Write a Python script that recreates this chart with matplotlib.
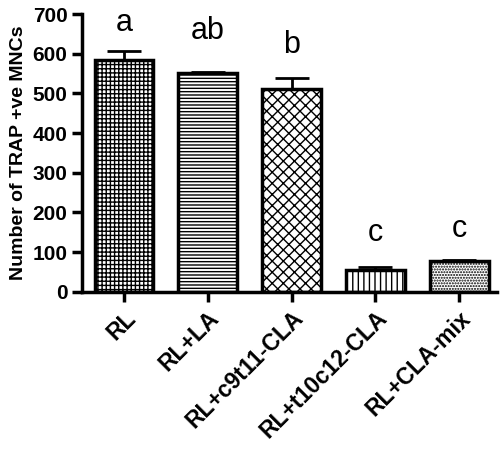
import matplotlib
matplotlib.use("Agg")
import matplotlib.pyplot as plt

categories = ["RL", "RL+LA", "RL+c9t11-CLA", "RL+t10c12-CLA", "RL+CLA-mix"]
values = [585, 552, 511, 55, 78]
errors = [22, 3, 28, 7, 2]
letters = ["a", "ab", "b", "c", "c"]
hatches = ["++++", "-----", "xxx", "|||", "......"]

plt.rcParams['font.family'] = ['Liberation Sans', 'DejaVu Sans']
plt.rcParams['hatch.linewidth'] = 1.0
fig = plt.figure(figsize=(5, 4.67), dpi=100)
ax = fig.add_axes([0.164, 0.375, 0.83, 0.595])
x = range(len(categories))
bars = ax.bar(x, values, width=0.7, color="white", edgecolor="black", linewidth=2.5, zorder=2)
for b, h in zip(bars, hatches):
    b.set_hatch(h)
ax.errorbar(x, values, yerr=[[0]*5, errors], fmt="none", ecolor="black", elinewidth=2, capsize=12, capthick=2, zorder=1)
letter_y = [640, 620, 585, 110, 120]
for i, (l, yy) in enumerate(zip(letters, letter_y)):
    ax.text(i, yy, l, ha="center", va="bottom", fontsize=22)
ax.set_ylim(0, 700)
ax.set_xlim(-0.5, 4.45)
ax.set_yticks(range(0, 701, 100))
ax.set_xticks(list(x))
ax.set_xticklabels(categories, rotation=45, ha="right", rotation_mode="anchor", fontsize=16.5, fontweight="bold")
for t in ax.get_yticklabels():
    t.set_fontsize(15); t.set_fontweight("bold")
ax.set_ylabel("Number of TRAP +ve MNCs", fontsize=14, fontweight="bold", labelpad=4)
for s in ["top", "right"]:
    ax.spines[s].set_visible(False)
for s in ["left", "bottom"]:
    ax.spines[s].set_linewidth(2.5)
ax.tick_params(width=2.5, length=7)
fig.savefig("out.png", dpi=100)
